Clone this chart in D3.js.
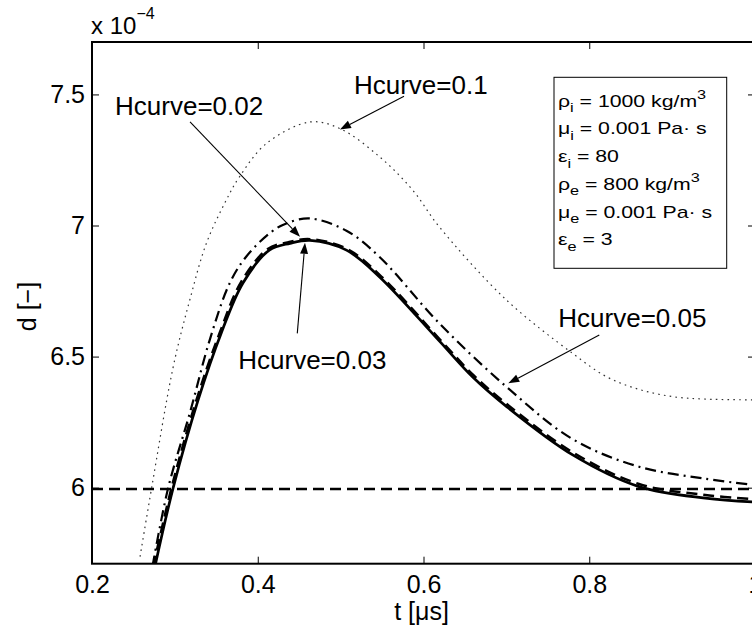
<!DOCTYPE html>
<html>
<head>
<meta charset="utf-8">
<script src="https://cdn.jsdelivr.net/npm/d3@7/dist/d3.min.js"></script>
<style>
  html, body { margin: 0; padding: 0; background: #fff; }
  svg { display: block; font-family: "Liberation Sans", Arial, Helvetica, sans-serif; }
</style>
</head>
<body>
<svg id="chart" width="752" height="639"></svg>
<script>
// ---------- data (d in units of 1e-4) ----------
const tTicks = [0.2, 0.4, 0.6, 0.8, 1.0];
const tTickLabels = ["0.2", "0.4", "0.6", "0.8", "1"];
const dTicks = [6, 6.5, 7, 7.5];
const dTickLabels = ["6", "6.5", "7", "7.5"];

// Hcurve = 0.03 (solid)
const t003 = [0.276, 0.298, 0.328, 0.356, 0.382, 0.414, 0.439, 0.463, 0.507, 0.547, 0.619, 0.660, 0.700, 0.780, 0.860, 0.940, 1.000];
const d003 = [5.70, 6.00, 6.334, 6.59, 6.78, 6.906, 6.932, 6.943, 6.906, 6.804, 6.56, 6.42, 6.31, 6.125, 6.004, 5.960, 5.945];
// Hcurve = 0.02 (dashed)
const t002 = [0.274, 0.296, 0.326, 0.354, 0.380, 0.412, 0.438, 0.463, 0.507, 0.547, 0.619, 0.660, 0.700, 0.780, 0.860, 0.940, 1.000];
const d002 = [5.70, 6.00, 6.334, 6.59, 6.785, 6.91, 6.937, 6.948, 6.912, 6.812, 6.568, 6.43, 6.32, 6.135, 6.014, 5.972, 5.956];
// Hcurve = 0.05 (dash-dot)
const t005 = [0.273, 0.292, 0.318, 0.342, 0.366, 0.386, 0.4165, 0.4345, 0.463, 0.507, 0.547, 0.619, 0.700, 0.780, 0.860, 0.940, 1.000];
const d005 = [5.70, 6.00, 6.284, 6.563, 6.779, 6.881, 6.976, 7.008, 7.027, 6.98, 6.88, 6.627, 6.385, 6.185, 6.08, 6.034, 6.01];
// Hcurve = 0.1 (dotted)
const t01 = [0.258, 0.272, 0.298, 0.318, 0.338, 0.362, 0.378, 0.4105, 0.463, 0.499, 0.547, 0.587, 0.619, 0.700, 0.780, 0.821, 0.860, 0.901, 0.940, 1.000];
const d01 = [5.737, 6.00, 6.461, 6.716, 6.932, 7.097, 7.186, 7.313, 7.395, 7.37, 7.262, 7.135, 6.995, 6.716, 6.512, 6.423, 6.375, 6.347, 6.338, 6.335];
// reference level (horizontal dashed line)
const dRef = 5.995;

// annotations: label, text anchor (t,d), arrow tail (t,d), arrow head (t,d)
const annLabels = ["Hcurve=0.1", "Hcurve=0.02", "Hcurve=0.03", "Hcurve=0.05"];
const annText = [[0.5161, 7.501], [0.2278, 7.4209], [0.3765, 6.4525], [0.7627, 6.6138]];
const annTail = [[0.5765, 7.4933], [0.3183, 7.3953], [0.4477, 6.5886], [0.8121, 6.5822]];
const annHead = [[0.4992, 7.3664], [0.4510, 6.9569], [0.4570, 6.9340], [0.7023, 6.3980]];

// parameter box lines: [text, kind]
const paramRows = [
  [["ρ", ""], ["i", "sub"], [" = 1000 kg/m", ""], ["3", "sup"]],
  [["μ", ""], ["i", "sub"], [" = 0.001 Pa· s", ""]],
  [["ε", ""], ["i", "sub"], [" = 80", ""]],
  [["ρ", ""], ["e", "sub"], [" = 800 kg/m", ""], ["3", "sup"]],
  [["μ", ""], ["e", "sub"], [" = 0.001 Pa· s", ""]],
  [["ε", ""], ["e", "sub"], [" = 3", ""]]
];

// ---------- layout ----------
const svg = d3.select("#chart");
const L = 92, R = 755, T = 42, B = 563.7;
const x = d3.scaleLinear().domain([0.2, 1.0]).range([L, R]);
const y = d3.scaleLinear().domain([5.71, 7.7]).range([B, T]);

svg.append("defs").append("clipPath").attr("id", "clip")
  .append("rect").attr("x", L).attr("y", T).attr("width", R - L).attr("height", B - T);

const plot = svg.append("g").attr("clip-path", "url(#clip)");

const line = d3.line().x(d => x(d[0])).y(d => y(d[1])).curve(d3.curveCatmullRom.alpha(0.5));
const zip = (a, b) => a.map((v, i) => [v, b[i]]);

// horizontal reference
plot.append("path")
  .attr("d", line([[0.2, dRef], [1.0, dRef]]))
  .attr("fill", "none").attr("stroke", "#000").attr("stroke-width", 2.5)
  .attr("stroke-dasharray", "11,6");

const series = [
  { t: t01, d: d01, w: 1.2, dash: "1.6,4.2", c: "#333" },
  { t: t005, d: d005, w: 2.2, dash: "11,5,2,5", c: "#000" },
  { t: t002, d: d002, w: 2.5, dash: "11,6", c: "#000" },
  { t: t003, d: d003, w: 2.7, dash: null, c: "#000" }
];
series.forEach(s => {
  plot.append("path")
    .attr("d", line(zip(s.t, s.d)))
    .attr("fill", "none").attr("stroke", s.c).attr("stroke-width", s.w)
    .attr("stroke-dasharray", s.dash);
});

// ---------- axes ----------
const fs = 25;
const xAxis = d3.axisBottom(x).tickValues(tTicks).tickFormat((d, i) => tTickLabels[i])
  .tickSizeInner(-7).tickSizeOuter(0).tickPadding(12);
const gx = svg.append("g").attr("transform", `translate(0,${B})`).call(xAxis);
const yAxis = d3.axisLeft(y).tickValues(dTicks).tickFormat((d, i) => dTickLabels[i])
  .tickSizeInner(-7).tickSizeOuter(0).tickPadding(7);
const gy = svg.append("g").attr("transform", `translate(${L},0)`).call(yAxis);
const gxt = svg.append("g").attr("transform", `translate(0,${T})`)
  .call(d3.axisTop(x).tickValues(tTicks).tickFormat("").tickSizeInner(-7).tickSizeOuter(0));
const gyr = svg.append("g").attr("transform", `translate(${R},0)`)
  .call(d3.axisRight(y).tickValues(dTicks).tickFormat("").tickSizeInner(-7).tickSizeOuter(0));
[gx, gy, gxt, gyr].forEach(g => {
  g.select(".domain").remove();
  g.selectAll(".tick line").attr("stroke", "#000").attr("stroke-width", 1);
  g.selectAll(".tick text").attr("fill", "#000").style("font-size", fs + "px")
    .style("font-family", '"Liberation Sans", Arial, sans-serif');
});

svg.append("rect").attr("x", L).attr("y", T).attr("width", R - L).attr("height", B - T)
  .attr("fill", "none").attr("stroke", "#000").attr("stroke-width", 2);

// axis labels
svg.append("text").attr("x", (L + R) / 2 - 2).attr("y", 620).attr("text-anchor", "middle")
  .style("font-size", fs + "px").text("t [μs]");
svg.append("text").attr("transform", "translate(36,306.5) rotate(-90)").attr("text-anchor", "middle")
  .style("font-size", fs + "px").text("d [−]");

// exponent label
const ex = svg.append("text").attr("x", 91).attr("y", 34.3).style("font-size", "24px");
ex.append("tspan").text("x 10");
ex.append("tspan").attr("dy", -15).style("font-size", "16px").text("−4");

// ---------- annotations ----------
annLabels.forEach((lab, i) => {
  svg.append("text").attr("x", x(annText[i][0])).attr("y", y(annText[i][1]))
    .style("font-size", "26px").text(lab);
  const x1 = x(annTail[i][0]), y1 = y(annTail[i][1]);
  const x2 = x(annHead[i][0]), y2 = y(annHead[i][1]);
  const ang = Math.atan2(y2 - y1, x2 - x1);
  const hl = 11, hw = 4;
  const bx = x2 - hl * Math.cos(ang), by = y2 - hl * Math.sin(ang);
  svg.append("line").attr("x1", x1).attr("y1", y1).attr("x2", bx).attr("y2", by)
    .attr("stroke", "#000").attr("stroke-width", 1.1);
  const px = -Math.sin(ang) * hw, py = Math.cos(ang) * hw;
  svg.append("path")
    .attr("d", `M${x2},${y2}L${bx + px},${by + py}L${bx - px},${by - py}Z`)
    .attr("fill", "#000");
});

// ---------- parameter box ----------
svg.append("rect").attr("x", 554).attr("y", 77.3).attr("width", 172.7).attr("height", 191)
  .attr("fill", "#fff").attr("stroke", "#000").attr("stroke-width", 1);
paramRows.forEach((row, i) => {
  const g = svg.append("g").attr("transform", `translate(558,${106.7 + i * 27.7}) scale(1.25,1)`);
  const tx = g.append("text").attr("x", 0).attr("y", 0).style("font-size", "17px");
  let shift = 0;
  row.forEach(([s, kind]) => {
    const sp = tx.append("tspan").text(s);
    if (kind === "sub") { sp.attr("dy", 5.5 - shift).style("font-size", "13px"); shift = 5.5; }
    else if (kind === "sup") { sp.attr("dy", -7.5 - shift).style("font-size", "13px"); shift = -7.5; }
    else { if (shift !== 0) sp.attr("dy", -shift); shift = 0; }
  });
});
</script>
</body>
</html>
